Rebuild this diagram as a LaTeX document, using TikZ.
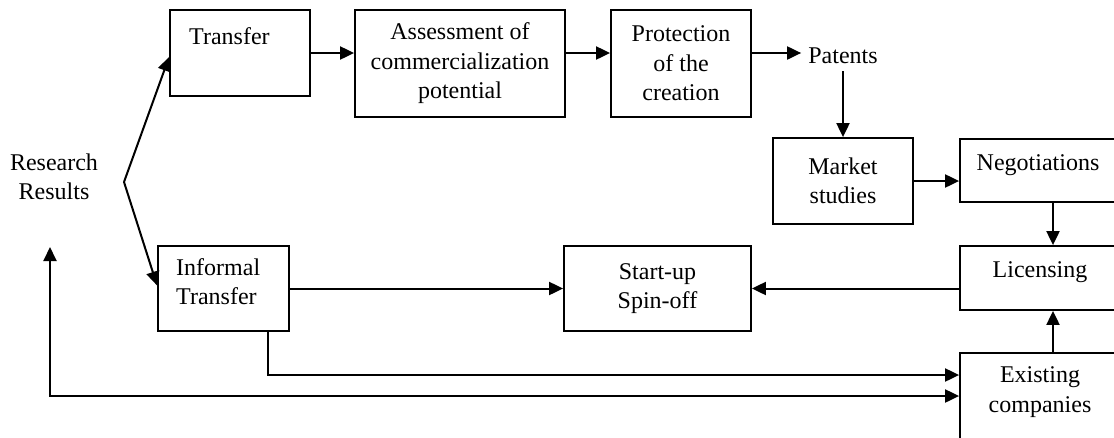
\documentclass[tikz,border=0pt]{standalone}
\usepackage{fontspec}
\setmainfont{Liberation Serif}
\usetikzlibrary{arrows.meta,calc}
\begin{document}
\begin{tikzpicture}[x=1pt,y=-1pt,
  every node/.style={font=\fontsize{24}{29.5}\selectfont},
  box/.style={draw, line width=1.8pt, align=center, inner sep=0pt},
  txt/.style={inner sep=0pt, align=center},
  conn/.style={line width=2pt, -{Triangle[length=14pt,width=13pt]}},
  line/.style={line width=2pt}]
\useasboundingbox (0,0) rectangle (1114,437);
\clip (0,0) rectangle (1114,437);
\fill[white] (0,0) rectangle (1114,437);
% boxes
\node[box, minimum width=140pt, minimum height=86pt] (transfer) at (240,53) {};
\node[txt, anchor=west] (transfertxt) at (189,36) {Transfer};
\node[box, minimum width=210pt, minimum height=107pt] (assess) at (460,63.5) {Assessment of\\commercialization\\potential};
\node[box, minimum width=140pt, minimum height=107pt] (protect) at (681,63.5) {Protection\\of the\\creation};
\node[txt, inner sep=7pt] (patents) at (843,56) {Patents};
\node[box, minimum width=140pt, minimum height=86pt] (market) at (843,181) {Market\\studies};
\node[box, minimum width=160pt, minimum height=63pt] (nego) at (1040,170.5) {};
\node[txt] (negotxt) at (1038,165) {Negotiations};
\node[box, minimum width=160pt, minimum height=64pt] (licens) at (1040,278) {};
\node[txt] (licenstxt) at (1040,272) {Licensing};
\node[box, minimum width=187pt, minimum height=85pt] (startup) at (657.5,288.5) {Start-up\\Spin-off};
\node[box, minimum width=131pt, minimum height=85pt] (informal) at (223.5,288.5) {};
\node[txt, align=left, anchor=north west] (informaltxt) at (176,258) {Informal\\Transfer};
\node[box, minimum width=160pt, minimum height=92pt] (existing) at (1040,399) {};
\node[txt] (existingtxt) at (1040,392) {Existing\\companies};
\node[txt] (research) at (54,177) {Research\\Results};
% connectors
\coordinate (branch) at (124,182);
\coordinate (fb) at (50,247);
\draw[conn] (branch) -- ($(transfer.west)+(0,4)$);
\draw[conn] (branch) -- ($(informal.west)+(0,-3)$);
\draw[conn] (transfer.east) -- (transfer.east -| assess.west);
\draw[conn] (transfer.east -| assess.east) -- (transfer.east -| protect.west);
\draw[conn] (transfer.east -| protect.east) -- (transfer.east -| patents.west);
\draw[conn] (patents.south) -- (market.north);
\draw[conn] (market.east) -- (market.east -| nego.west);
\draw[conn] ($(nego.south)+(13,0)$) -- ($(licens.north)+(13,0)$);
\draw[conn] ($(existing.north)+(13,0)$) -- ($(licens.south)+(13,0)$);
\draw[conn] (licens.west |- startup.east) -- (startup.east);
\draw[conn] (informal.east) -- (startup.west);
\draw[conn] ($(informal.south east)+(-22,0)$) |- ($(existing.west)+(0,-24)$);
\draw[line, {Triangle[length=14pt,width=13pt]}-{Triangle[length=14pt,width=13pt]}] (fb) |- ($(existing.west)+(0,-3)$);
\end{tikzpicture}
\end{document}
